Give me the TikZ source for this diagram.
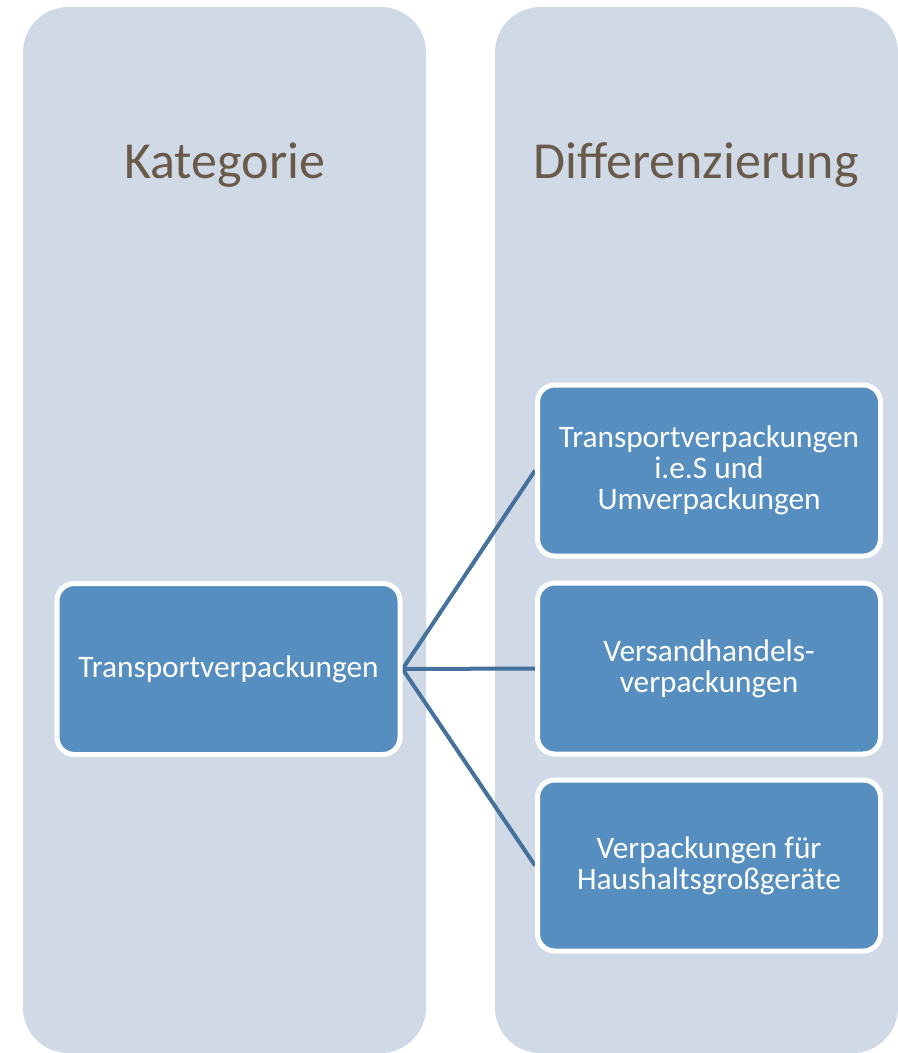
\documentclass[tikz,border=0pt]{standalone}
\usepackage{fontspec}
\setmainfont{Carlito}
\usepackage{xcolor}
\usetikzlibrary{backgrounds}

\definecolor{colbg}{HTML}{D0DAE7}
\definecolor{boxfill}{HTML}{568EC0}
\definecolor{connline}{HTML}{44729C}
\definecolor{titletext}{HTML}{6A5A4A}

\begin{document}
\begin{tikzpicture}[x=0.75pt,y=-0.75pt,
    column/.style={fill=colbg, rounded corners=34pt},
    coltitle/.style={anchor=base, text=titletext, font=\fontsize{39}{44}\selectfont},
    itembox/.style={draw=white, line width=3.75pt, fill=boxfill, rounded corners=13pt,
        minimum width=257.25pt, minimum height=128.25pt, text=white, align=center,
        font=\fontsize{23.5}{23.25}\selectfont},
    conn/.style={draw=connline, line width=3pt}]
    \useasboundingbox (0,0) rectangle (897,1053);

    % columns
    \begin{scope}[on background layer]
    \fill[column] (23,7) rectangle (426,1053);
    \fill[column] (495,7) rectangle (898,1053);
    \end{scope}
    \node[coltitle] (kat) at (224.5,178) {Kategorie};
    \node[coltitle] (diff) at (696,178) {Differenzierung};

    % boxes
    \node[itembox] (tv) at (228.5,669) {Transportverpackungen};
    \node[itembox] (tvies) at (709,470.5) {Transportverpackungen\\i.e.S und\\Umverpackungen};
    \node[itembox] (vh) at (709,668.5) {Versandhandels-\\verpackungen};
    \node[itembox] (hg) at (709,865.5) {Verpackungen für\\Haushaltsgroßgeräte};

    % connectors
    \begin{scope}[on background layer]
    \draw[conn] (tv.east) -- (tvies.west);
    \draw[conn] (tv.east) -- (vh.west);
    \draw[conn] (tv.east) -- (hg.west);
    \end{scope}
\end{tikzpicture}
\end{document}
